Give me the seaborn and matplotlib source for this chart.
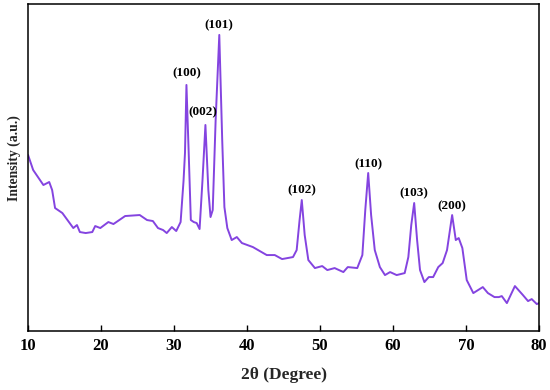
import numpy as np
import pandas as pd
import seaborn as sns
import matplotlib.pyplot as plt

# XRD pattern (2theta in degrees, intensity in a.u.)
two_theta = [10.0, 10.7, 12.1, 12.9, 13.3, 13.7, 14.7, 16.2, 16.7, 17.1, 17.9, 18.8,
             19.2, 19.9, 21.0, 21.7, 23.3, 25.3, 26.3, 27.1, 27.8, 28.5, 29.0, 29.7,
             30.3, 30.9, 31.3, 31.5, 31.7, 32.0, 32.3, 32.7, 33.1, 33.5, 33.9, 34.3,
             34.7, 35.0, 35.3, 35.7, 36.2, 36.6, 36.9, 37.3, 37.9, 38.6, 39.3, 40.8,
             42.7, 43.8, 44.8, 46.3, 46.8, 47.2, 47.5, 47.9, 48.4, 49.3, 50.3, 51.0,
             52.0, 53.2, 53.8, 55.1, 55.8, 56.2, 56.6, 57.0, 57.5, 58.2, 58.9, 59.6,
             60.5, 61.6, 62.1, 62.5, 62.9, 63.3, 63.7, 64.3, 64.9, 65.5, 66.2, 66.8,
             67.4, 68.1, 68.6, 69.0, 69.5, 70.1, 71.0, 72.3, 73.0, 73.9, 74.5, 74.9,
             75.6, 76.7, 77.8, 78.5, 79.0, 79.7, 80.0]
intensity = [176, 161, 146, 149, 141, 123, 118, 103, 106, 99, 98, 99,
             105, 103, 109, 107, 115, 116, 111, 110, 103, 101, 98, 104,
             100, 109, 150, 178, 246, 180, 111, 109, 108, 102, 151, 206,
             141, 114, 121, 211, 296, 191, 124, 103, 91, 94, 88, 84,
             76, 76, 72, 74, 81, 111, 131, 96, 71, 63, 65, 61,
             63, 59, 64, 63, 76, 121, 158, 116, 81, 64, 56, 59,
             56, 58, 74, 106, 128, 91, 61, 49, 54, 54, 64, 68,
             81, 116, 91, 93, 83, 51, 38, 44, 38, 34, 34, 35,
             28, 45, 36, 30, 32, 27, 28]

# peak labels and where they sit
peak_labels = ['(100)', '(002)', '(101)', '(102)', '(110)', '(103)', '(200)']
label_x = [31.7, 33.9, 36.2, 47.5, 56.6, 62.9, 68.1]
label_y = [258, 219, 306, 141, 167, 138, 125]

df = pd.DataFrame({'two_theta': two_theta, 'intensity': intensity})

sns.set_theme(style='ticks')
plt.rcParams['font.family'] = ['Liberation Serif', 'DejaVu Serif']
plt.rcParams['font.weight'] = 'bold'

fig = plt.figure(figsize=(5.5, 3.9), dpi=100)
ax = fig.add_axes([0.051, 0.151, 0.929, 0.839])

sns.lineplot(data=df, x='two_theta', y='intensity', ax=ax,
             color='#8444E0', linewidth=1.4)

for lab, lx, ly in zip(peak_labels, label_x, label_y):
    ax.text(lx, ly, lab, ha='center', va='center', fontsize=9.5,
            fontweight='bold', color='black')

ax.set_xlim(10, 80)
ax.set_ylim(0, 327)
ax.set_xticks([10, 20, 30, 40, 50, 60, 70, 80])
ax.set_yticks([])
ax.tick_params(axis='x', direction='in', length=4, width=1, labelsize=12,
               colors='black', pad=5)
for t in ax.get_xticklabels():
    t.set_fontweight('bold')
for s in ax.spines.values():
    s.set_linewidth(1.1)
    s.set_color('black')

ax.set_xlabel('2θ (Degree)', fontsize=12.5, fontweight='bold', labelpad=9)
ax.set_ylabel('Intensity (a.u.)', fontsize=9.8, fontweight='bold')
ax.yaxis.set_label_coords(-0.014, 0.53)

fig.savefig('out.png', dpi=100)
